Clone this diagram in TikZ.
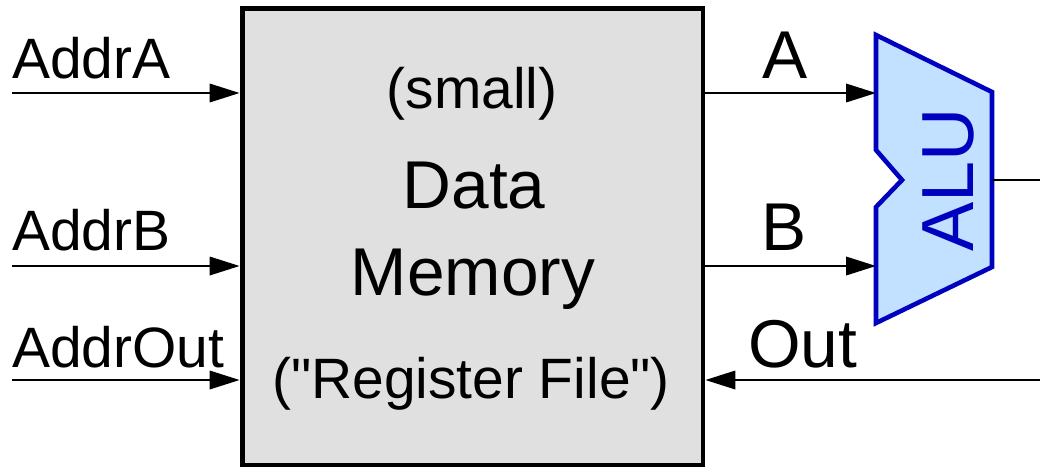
\documentclass[tikz,border=0pt]{standalone}
\usepackage{fontspec}
\setmainfont{Liberation Sans}
\usetikzlibrary{arrows.meta, positioning, calc}

\definecolor{memgray}{HTML}{E0E0E0}
\definecolor{alufill}{HTML}{C2E0FF}
\definecolor{aluline}{HTML}{0000BF}

\begin{document}
\begin{tikzpicture}[
    x=0.02cm, y=-0.02cm,
    membox/.style={draw, line width=2.8pt, fill=memgray, minimum width=9.22cm, minimum height=9.14cm, inner sep=0},
    sig/.style={-{Triangle[length=17pt, width=10.5pt]}, line width=1.1pt},
    wire/.style={line width=1.1pt},
    lbl/.style={font=\fontsize{32.4}{36}\selectfont, inner sep=0},
    big/.style={font=\fontsize{38.5}{44}\selectfont, inner sep=0},
    alu/.style={draw=aluline, fill=alufill, line width=2.6pt}
]
    \useasboundingbox (0,0) rectangle (1040,471);

    % register file block
    \node[membox] (mem) at (472.5,236.5) {};
    \node[lbl, anchor=base] (small) at (472,108) {(small)};
    \node[big, anchor=base] (data) at (474,208) {Data};
    \node[big, anchor=base] (memory) at (473,295) {Memory};
    \node[lbl, anchor=base] (regfile) at (471,398) {(\textquotedbl Register File\textquotedbl)};

    % address inputs
    \coordinate (inA) at (12,93);
    \coordinate (inB) at (12,266);
    \coordinate (inOut) at (12,380);
    \draw[sig] (inA) -- (inA -| mem.west);
    \draw[sig] (inB) -- (inB -| mem.west);
    \draw[sig] (inOut) -- (inOut -| mem.west);
    \node[lbl, anchor=base west] (addrA) at (12,78) {AddrA};
    \node[lbl, anchor=base west] (addrB) at (12,250) {AddrB};
    \node[lbl, anchor=base west] (addrOut) at (12,367) {AddrOut};

    % ALU
    \draw[alu] (876,35) -- (992,92) -- (992,267) -- (876,323) -- (876,207)
        -- (902,180) -- (876,150) -- cycle;
    \coordinate (aluA) at (876,93);
    \coordinate (aluB) at (876,266);
    \coordinate (aluOut) at (992,180);
    \node[font=\fontsize{42}{48}\selectfont, text=aluline, rotate=90, inner sep=0] (aluTxt) at (948,180) {ALU};

    % operands and result
    \draw[sig] (aluA -| mem.east) -- (aluA);
    \draw[sig] (aluB -| mem.east) -- (aluB);
    \node[big, anchor=base] (opA) at (785,78) {A};
    \node[big, anchor=base] (opB) at (784,250) {B};
    \coordinate (res) at (1040,180);
    \draw[wire] (aluOut) -- (res);
    \coordinate (back) at (1040,380);
    \draw[sig] (back) -- (back -| mem.east);
    \node[big, anchor=base west] (outLbl) at (748,367) {Out};
\end{tikzpicture}
\end{document}
